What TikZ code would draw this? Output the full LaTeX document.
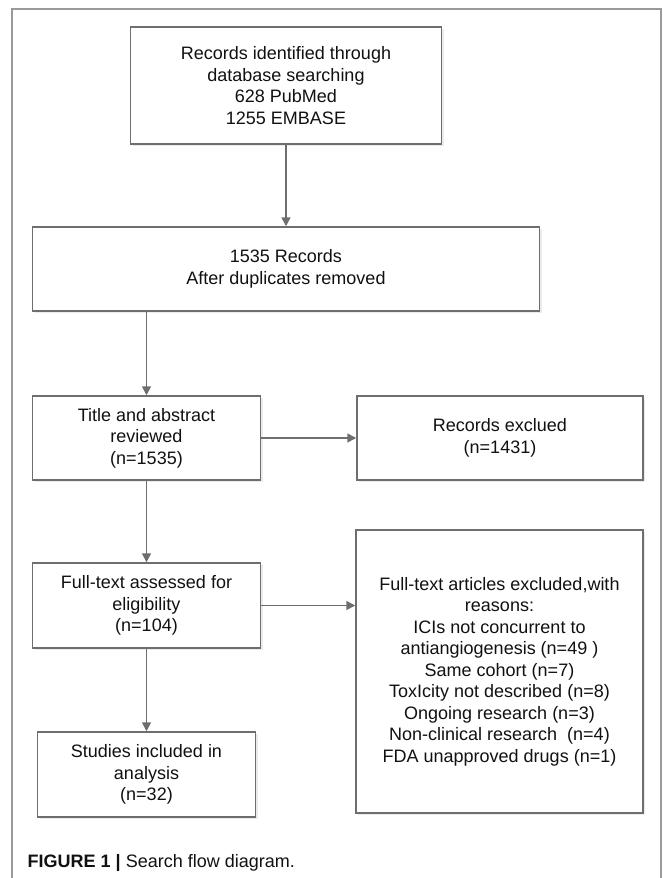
\documentclass[tikz,border=0pt]{standalone}
\usepackage{fontspec}
\setmainfont{Liberation Sans}
\usepackage{xcolor}
\usepackage{tikz}
\usetikzlibrary{arrows.meta,shadows}
\tikzset{
  flowarrow/.style={-{Triangle[length=9pt,width=9pt]}, line width=1.5pt,
    draw=FlowLine},
  framestroke/.style={draw=FlowFrame, line width=1.2pt}
}
\definecolor{FlowLine}{HTML}{6E6E6E}
\definecolor{FlowFrame}{HTML}{9A9A9A}
\definecolor{FlowText}{HTML}{111111}
\definecolor{FlowShadow}{HTML}{EBEBEB}

\begin{document}
\begin{tikzpicture}[
  x=1pt, y=-1pt,
  box/.style={draw=FlowLine, line width=1.5pt, fill=white, align=center,
    inner sep=0pt, text=FlowText, font=\fontsize{18}{21.5}\selectfont,
    drop shadow={shadow xshift=2pt, shadow yshift=-2pt, fill=FlowShadow, opacity=1}}
]
\useasboundingbox (0,0) rectangle (663,878);
\draw[framestroke] (12,878) -- (12,9) -- (661,9) -- (661,878);

\node[box, minimum width=311pt, minimum height=117pt] at (286,85.5) (ident)
  {Records identified through\\database searching\\628 PubMed\\1255 EMBASE};
\node[box, minimum width=507pt, minimum height=84pt] at (286,269) (dedup)
  {1535 Records\\After duplicates removed};
\node[box, minimum width=228pt, minimum height=84pt] at (146.5,438) (screen)
  {Title and abstract\\reviewed\\(n=1535)};
\node[box, minimum width=286pt, minimum height=84pt] at (500,438) (excl)
  {Records exclued\\(n=1431)};
\node[box, minimum width=228pt, minimum height=85pt] at (146.5,605.5) (fulltext)
  {Full-text assessed for\\eligibility\\(n=104)};
\node[box, minimum width=287pt, minimum height=283pt] at (499.5,671.5) (fullexcl)
  {Full-text articles excluded,with\\reasons:\\ICIs not concurrent to\\antiangiogenesis (n=49 )\\Same cohort (n=7)\\ToxIcity not described (n=8)\\Ongoing research (n=3)\\Non-clinical research\ \ (n=4)\\FDA unapproved drugs (n=1)};
\node[box, minimum width=218pt, minimum height=85pt] at (146.5,774.5) (incl)
  {Studies included in\\analysis\\(n=32)};

\draw[flowarrow] (ident.south) -- (dedup.north);
\draw[flowarrow] (dedup.south -| screen.north) -- (screen.north);
\draw[flowarrow] (screen.east) -- (excl.west);
\draw[flowarrow] (screen.south) -- (fulltext.north);
\draw[flowarrow] (fulltext.east) -- (fulltext.east -| fullexcl.west);
\draw[flowarrow] (fulltext.south) -- (incl.north);

\node[anchor=west, inner sep=0pt, font=\fontsize{18}{21.5}\selectfont, text=FlowText] at (27.5,863) (caption)
  {\textbf{FIGURE 1 |} Search flow diagram.};
\end{tikzpicture}
\end{document}
